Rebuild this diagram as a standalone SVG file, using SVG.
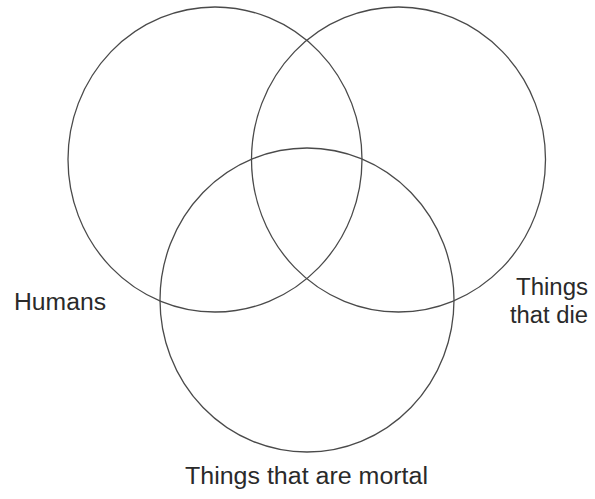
<svg xmlns="http://www.w3.org/2000/svg" width="595" height="499" viewBox="0 0 595 499">
<style>
.set{fill:none;stroke:#4a4a4a;stroke-width:1.3}
.lbl{font-family:"Liberation Sans",Arial,sans-serif;font-size:23px;fill:#2a2a2a}
</style>
<rect width="595" height="499" fill="#fff"/>
<g id="humans">
<ellipse class="set" cx="215" cy="159.5" rx="147" ry="152.5"/>
<text class="lbl" x="14" y="310" textLength="92" lengthAdjust="spacingAndGlyphs">Humans</text>
</g>
<g id="things-that-die">
<ellipse class="set" cx="398.5" cy="159.5" rx="147" ry="152.5"/>
<text class="lbl" x="516" y="295" textLength="72" lengthAdjust="spacingAndGlyphs">Things</text>
<text class="lbl" x="510" y="323" textLength="78" lengthAdjust="spacingAndGlyphs">that die</text>
</g>
<g id="things-that-are-mortal">
<ellipse class="set" cx="307" cy="300" rx="147" ry="152"/>
<text class="lbl" x="185" y="484" textLength="243" lengthAdjust="spacingAndGlyphs">Things that are mortal</text>
</g>
<g id="connectors"/>
</svg>
